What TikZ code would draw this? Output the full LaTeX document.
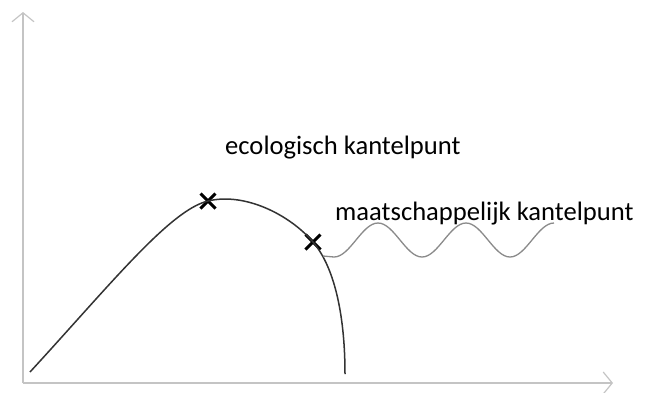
\documentclass[tikz,border=0pt]{standalone}
\usepackage{fontspec}
\setmainfont{Carlito}
\usepackage{tikz}
\definecolor{axisgray}{HTML}{c4c4c4}
\definecolor{curvegray}{HTML}{333333}
\definecolor{wavegray}{HTML}{8a8a8a}
\usetikzlibrary{shapes.misc, arrows.meta, positioning}

\begin{document}
\begin{tikzpicture}[x=1bp, y=-1bp,
    axisline/.style={draw=axisgray, line width=1.2bp, -{Straight Barb[length=9bp, width=22bp, line width=1.2bp]}},
    mainline/.style={draw=curvegray, line width=1.5bp},
    waveline/.style={draw=wavegray, line width=1.3bp},
    kmark/.style={cross out, draw=black, line width=3bp, minimum size=12bp, inner sep=0pt},
    kpunt/.style={font=\fontsize{26.7}{30}\selectfont, inner sep=0pt, anchor=base west}
]
    \useasboundingbox (0,0) rectangle (650,392);

    % Axes
    \coordinate (origin) at (23,383);
    \coordinate (ytop) at (23,12);
    \coordinate (xend) at (613,383);
    \draw[axisline] (origin) -- (ytop);
    \draw[axisline] (origin) -- (xend);

    % Curve
    \coordinate (start) at (30,372);
    \coordinate (eind) at (345,374);
    \node[kmark] (eco) at (208,201) {};
    \node[kmark] (maat) at (313,242) {};
    \draw[mainline] (start) .. controls (110,285) and (170,210) .. (eco.center)
        .. controls (245,192) and (290,215) .. (maat.center)
        .. controls (336,269) and (345,320) .. (eind);

    % Wave
    \coordinate (golf) at (323,256);
    \draw[waveline] (golf) -- ++(11,1) cos ++(22,-17) sin ++(22,-17) cos ++(22,17) sin ++(22,17)
        cos ++(22,-17) sin ++(22,-17) cos ++(22,17) sin ++(22,17)
        cos ++(22,-17) sin ++(22,-17);

    % Labels
    \node[kpunt] (ecotext) at (225,154) {ecologisch kantelpunt};
    \node[kpunt] (maattext) at (335,220) {maatschappelijk kantelpunt};
\end{tikzpicture}
\end{document}
